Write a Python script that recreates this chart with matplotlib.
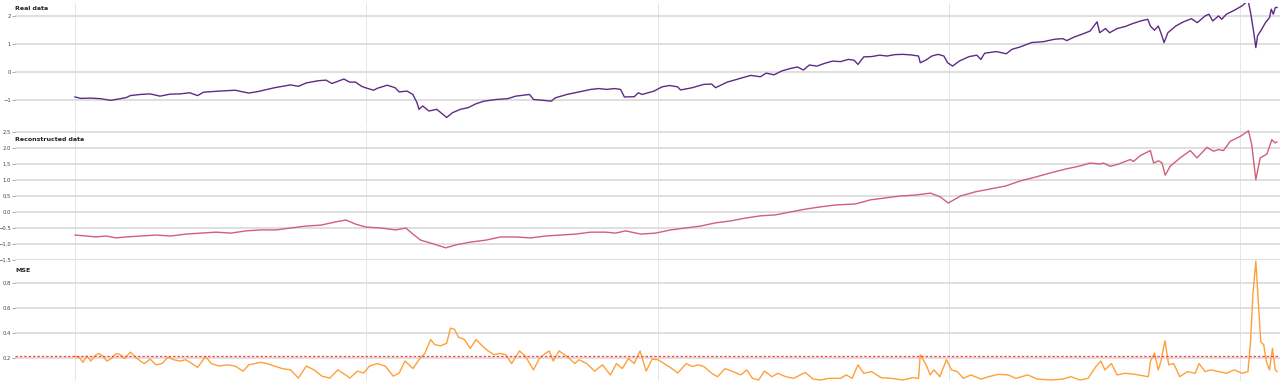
import numpy as np
import matplotlib as mpl
mpl.use('Agg')
from matplotlib import pyplot as plt

# real (normalised) series
real_x = [0, 20, 54, 88, 122, 156, 176, 190, 224, 258, 292, 326, 360, 394, 421, 441,
          495, 550, 577, 597, 631, 685, 740, 767, 794, 835, 862, 882, 902, 923, 943,
          963, 984, 997, 1025, 1038, 1072, 1099, 1113, 1140, 1160, 1174, 1181, 1194,
          1215, 1242, 1269, 1276, 1296, 1323, 1350, 1377, 1404, 1445, 1486, 1513,
          1561, 1574, 1608, 1635, 1649, 1689, 1744, 1771, 1798, 1825, 1852, 1873,
          1879, 1886, 1920, 1934, 1947, 1961, 1988, 2015, 2042, 2069,
          2079, 2119, 2159, 2186, 2199, 2239, 2279, 2320, 2353, 2373, 2400, 2427,
          2454, 2480, 2501, 2521, 2547, 2574, 2601, 2628, 2655, 2675, 2688, 2708,
          2735, 2762, 2788, 2815, 2842, 2869, 2896, 2902, 2922, 2942, 2963, 2983,
          2996, 3013, 3036, 3070, 3096, 3110, 3123, 3163, 3197, 3217, 3244, 3284,
          3324, 3364, 3391, 3405, 3431, 3458, 3485, 3509, 3518, 3538, 3552, 3578,
          3605, 3632, 3659, 3683, 3692, 3706, 3719, 3728, 3739, 3752, 3779, 3806,
          3833, 3853, 3880, 3893, 3906, 3926, 3937, 3953, 3980, 4007, 4020, 4028,
          4036, 4047, 4054, 4060, 4074, 4087, 4101, 4107, 4114, 4121, 4127]
real_y = [-0.89, -0.94, -0.93, -0.95, -1.01, -0.95, -0.91, -0.84, -0.80, -0.78, -0.86,
          -0.79, -0.78, -0.74, -0.84, -0.72, -0.68, -0.65, -0.71, -0.75, -0.69, -0.56,
          -0.46, -0.51, -0.39, -0.31, -0.29, -0.41, -0.33, -0.25, -0.36, -0.36, -0.51,
          -0.56, -0.65, -0.58, -0.47, -0.56, -0.71, -0.68, -0.80, -1.09, -1.33, -1.21,
          -1.39, -1.33, -1.56, -1.62, -1.45, -1.33, -1.27, -1.13, -1.04, -0.98, -0.95,
          -0.86, -0.80, -0.98, -1.01, -1.04, -0.92, -0.80, -0.68, -0.62, -0.59, -0.62,
          -0.59, -0.62, -0.74, -0.89, -0.88, -0.74, -0.80, -0.76, -0.68, -0.53, -0.48,
          -0.53,
          -0.64, -0.56, -0.44, -0.43, -0.56, -0.36, -0.24, -0.12, -0.17, -0.04, -0.10,
          0.04, 0.12, 0.18, 0.07, 0.25, 0.21, 0.31, 0.39, 0.37, 0.45, 0.42, 0.27, 0.54,
          0.55, 0.60, 0.57, 0.62, 0.63, 0.61, 0.57, 0.33, 0.43, 0.57, 0.63, 0.57, 0.33,
          0.21, 0.39, 0.55, 0.60, 0.45, 0.67, 0.73, 0.65, 0.81, 0.89, 1.05, 1.08, 1.17,
          1.19, 1.12, 1.25, 1.35, 1.46, 1.79, 1.40, 1.55, 1.40, 1.55, 1.62, 1.73, 1.82,
          1.88, 1.64, 1.49, 1.64, 1.40, 1.05, 1.40, 1.64, 1.79, 1.90, 1.76, 2.00, 2.06,
          1.82, 2.00, 1.88, 2.06, 2.20, 2.36, 2.48, 2.52, 2.12, 1.40, 0.87, 1.29, 1.52,
          1.76, 1.94, 2.24, 2.06, 2.30, 2.30]

# reconstructed series
rec_x = [0, 38, 72, 106, 141, 175, 226, 278, 329, 381, 432, 484, 535, 587, 638, 690,
         741, 792, 844, 895, 930, 964, 998, 1050, 1101, 1136, 1160, 1187, 1221, 1273,
         1307, 1358, 1410, 1461, 1513, 1564, 1616, 1667, 1719, 1770, 1822, 1856, 1890,
         1942, 1993, 2045, 2096, 2147, 2199, 2250, 2302, 2353, 2405, 2456, 2508, 2559,
         2611, 2679, 2731, 2782, 2834, 2885, 2937, 2971, 2998, 3040, 3091, 3142, 3194,
         3245, 3297, 3348, 3400, 3451, 3485,
         3520, 3531, 3554, 3577, 3600, 3623, 3634, 3657, 3692, 3703, 3720, 3732, 3743,
         3760, 3794, 3829, 3852, 3886, 3909, 3926, 3943, 3966, 4000, 4029, 4040, 4054,
         4069, 4092, 4109, 4120, 4126]
rec_y = [-0.72, -0.75, -0.78, -0.75, -0.81, -0.78, -0.75, -0.72, -0.75, -0.69, -0.66,
         -0.63, -0.66, -0.59, -0.56, -0.56, -0.50, -0.44, -0.41, -0.31, -0.25, -0.38,
         -0.47, -0.50, -0.56, -0.50, -0.69, -0.88, -0.97, -1.12, -1.03, -0.94, -0.88,
         -0.78, -0.78, -0.81, -0.75, -0.72, -0.69, -0.63, -0.63, -0.66, -0.59, -0.69,
         -0.66, -0.56, -0.50, -0.44, -0.34, -0.28, -0.19, -0.12, -0.09, 0.00, 0.09,
         0.16, 0.22, 0.25, 0.38, 0.44, 0.50, 0.53, 0.59, 0.47, 0.28, 0.50, 0.63, 0.72,
         0.81, 0.97, 1.09, 1.22, 1.34, 1.44, 1.53,
         1.50, 1.53, 1.43, 1.48, 1.56, 1.64, 1.58, 1.76, 1.92, 1.53, 1.60, 1.53, 1.15,
         1.43, 1.69, 1.92, 1.69, 2.02, 1.90, 1.95, 1.92, 2.21, 2.36, 2.54, 2.10, 1.01,
         1.69, 1.81, 2.26, 2.16, 2.19]

# reconstruction error
mse_x = [0, 14, 27, 41, 54, 68, 81, 95, 109, 122, 142, 156, 170, 190, 204, 224, 238,
         258, 278, 299, 319, 339, 360, 380, 401, 421, 448, 468, 495, 523, 550, 577,
         597, 617, 638, 658, 685, 712, 740, 767, 794, 821, 848, 875, 902, 929, 943,
         970, 991, 1011, 1038, 1065, 1093, 1113, 1133, 1160, 1181, 1201, 1221, 1235,
         1255, 1276, 1289, 1303, 1316, 1337, 1357, 1377, 1398, 1418, 1439, 1459,
         1479, 1499, 1526, 1547, 1574, 1594, 1615, 1628, 1642, 1662, 1689, 1716,
         1730, 1757, 1784, 1811, 1838, 1859, 1879, 1900, 1920, 1940, 1961, 1981,
         2002, 2029, 2056, 2069,
         2079, 2099, 2119, 2139, 2159, 2186, 2206, 2232, 2259, 2286, 2306, 2326,
         2347, 2367, 2393, 2413, 2440, 2467, 2507, 2534, 2561, 2588, 2628, 2648,
         2668, 2688, 2708, 2735, 2768, 2802, 2842, 2875, 2896, 2902, 2922, 2936,
         2949, 2969, 2992, 3009, 3029, 3050, 3076, 3110, 3137, 3170, 3204, 3230,
         3271, 3304, 3351, 3391, 3418, 3451, 3478, 3505, 3522, 3536, 3558, 3578,
         3605, 3638, 3665, 3685, 3692, 3706, 3719, 3728, 3742, 3755, 3772, 3793,
         3819, 3846, 3859, 3880, 3900, 3927, 3953, 3980, 4007, 4027, 4036, 4044,
         4054, 4063, 4071, 4081, 4090, 4101, 4111, 4121, 4127]
mse_y = [0.216, 0.21, 0.17, 0.22, 0.18, 0.22, 0.24, 0.22, 0.18, 0.195, 0.24, 0.23,
         0.20, 0.25, 0.22, 0.18, 0.16, 0.195, 0.15, 0.16, 0.21, 0.19, 0.18, 0.19, 0.16,
         0.13, 0.216, 0.16, 0.14, 0.15, 0.14, 0.10, 0.15, 0.16, 0.17, 0.16, 0.14, 0.12,
         0.11, 0.045, 0.14, 0.11, 0.06, 0.045, 0.11, 0.07, 0.045, 0.10, 0.085, 0.14,
         0.16, 0.14, 0.06, 0.085, 0.18, 0.12, 0.19, 0.24, 0.35, 0.31, 0.30, 0.32, 0.44,
         0.43, 0.37, 0.35, 0.28, 0.35, 0.30, 0.26, 0.23, 0.24, 0.23, 0.16, 0.26, 0.216,
         0.11, 0.20, 0.24, 0.26, 0.18, 0.26, 0.216, 0.16, 0.19, 0.16, 0.10, 0.15, 0.07,
         0.16, 0.12, 0.20, 0.16, 0.26, 0.10, 0.195, 0.19, 0.15, 0.11, 0.085,
         0.11, 0.16, 0.136, 0.15, 0.136, 0.083, 0.056, 0.12, 0.096, 0.07, 0.11, 0.043,
         0.03, 0.10, 0.056, 0.083, 0.056, 0.043, 0.09, 0.037, 0.03, 0.043, 0.043, 0.07,
         0.043, 0.15, 0.083, 0.096, 0.048, 0.043, 0.03, 0.048, 0.043, 0.23, 0.15, 0.07,
         0.11, 0.056, 0.19, 0.11, 0.096, 0.043, 0.07, 0.037, 0.056, 0.075, 0.07, 0.043,
         0.07, 0.037, 0.03, 0.037, 0.056, 0.03, 0.043, 0.136, 0.18, 0.11, 0.16, 0.07,
         0.083, 0.075, 0.064, 0.056, 0.176, 0.243, 0.11, 0.176, 0.34, 0.15, 0.16, 0.056,
         0.096, 0.083, 0.16, 0.096, 0.11, 0.096, 0.083, 0.11, 0.083, 0.096, 0.336, 0.71,
         0.97, 0.63, 0.33, 0.31, 0.176, 0.11, 0.28, 0.11, 0.096]

threshold = 0.22
titles = ['Real data', 'Reconstructed data', 'MSE']
yticks_list = [[-1, 0, 1, 2],
               [-1.5, -1.0, -0.5, 0.0, 0.5, 1.0, 1.5, 2.0, 2.5],
               [0.2, 0.4, 0.6, 0.8]]
ylims = [(-1.96, 2.46), (-1.5, 2.625), (0.022, 0.987)]
xlim = (-206, 4137)
# axes rectangles in figure fraction: [left, bottom, width, height]
W, H = 1280, 381
L = 15 / W
boxes = [[L, 1 - 127 / H, 1 - L, 124 / H],
         [L, 1 - 260 / H, 1 - L, 132 / H],
         [L, 0.0, 1 - L, 122 / H]]

fig = plt.figure(figsize=(12.8, 3.81), dpi=100)
axes = [fig.add_axes(b) for b in boxes]

series = [(real_x, real_y, '#5e2b86'),
          (rec_x, rec_y, '#d0607a'),
          (mse_x, mse_y, '#ffa038')]


def fmt(t):
    s = ('%d' % t) if isinstance(t, int) else ('%.1f' % t)
    return s.replace('-', '\u2212')


for ax, (xs, ys, c), title, yt, yl in zip(axes, series, titles, yticks_list, ylims):
    ax.plot(xs, ys, color=c, lw=1.0, zorder=3)
    ax.set_xlim(*xlim)
    ax.set_ylim(*yl)
    ax.set_yticks(yt)
    ax.set_yticklabels([fmt(t) for t in yt])
    ax.set_xticks([0, 1000, 2000, 3000, 4000])
    ax.tick_params(axis='x', length=0, labelbottom=False)
    ax.tick_params(axis='y', length=2, width=0.6, color='#999999', labelsize=3.8,
                   labelcolor='#444444', pad=1)
    ax.grid(axis='y', color='#dcdcdc', lw=1.3, zorder=0)
    ax.grid(axis='x', color='#e6e6e6', lw=0.7, zorder=0)
    for s in ax.spines.values():
        s.set_visible(False)
    ax.patch.set_alpha(0)

# error threshold
axes[2].axhline(threshold, color='#ff4040', lw=0.9, ls='--', dashes=(2, 1.5), zorder=4)

# panel titles inside the axes
title_pos = [1 - 3 / 124, 1 - 9 / 132, 1 - 9 / 122]
for ax, title, yp in zip(axes, titles, title_pos):
    ax.text(0.0, yp, title, transform=ax.transAxes, fontsize=4.5, fontweight='bold',
            ha='left', va='top', color='#222222')

fig.savefig('out.png', dpi=100)
